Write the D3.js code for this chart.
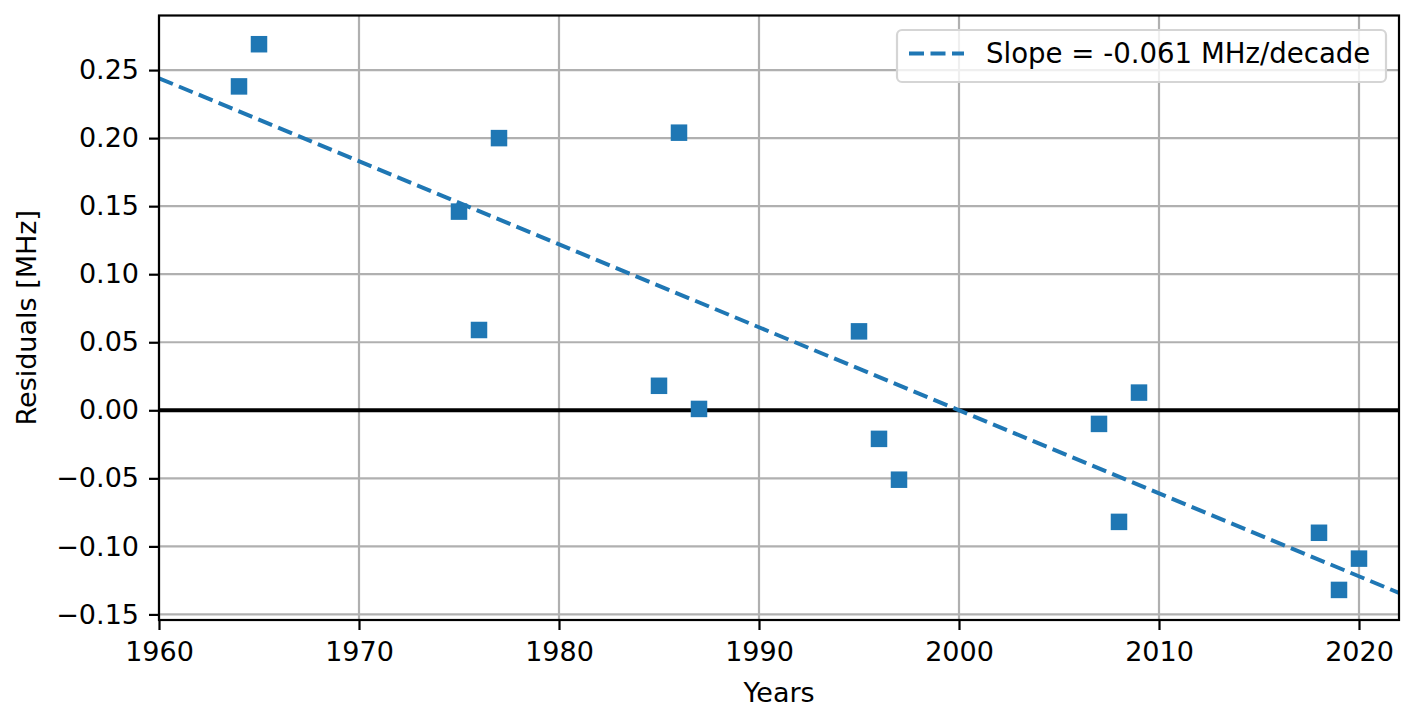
<!DOCTYPE html>
<html><head><meta charset="utf-8">
<script src="https://cdn.jsdelivr.net/npm/d3@7"></script>
<style>body{margin:0;background:#fff}svg{display:block;font-family:"DejaVu Sans",sans-serif}</style>
</head><body><svg id="c" width="1415" height="716"></svg>
<script>
const years = [1964,1965,1975,1976,1977,1985,1986,1987,1995,1996,1997,2007,2008,2009,2018,2019,2020];
const residuals = [0.238,0.269,0.146,0.059,0.200,0.018,0.204,0.001,0.058,-0.021,-0.051,-0.010,-0.082,0.013,-0.090,-0.132,-0.109];
const slopePerDecade = -0.061;
const fitAnchorYear = 2000;
const xTicks = [1960,1970,1980,1990,2000,2010,2020];
const yTicks = [-0.15,-0.10,-0.05,0.00,0.05,0.10,0.15,0.20,0.25];
const legendLabel = "Slope = -0.061 MHz/decade";

const FS = "27px";
const svg = d3.select("#c");
const L=159, R=1399, T=15.5, B=620;
const x = d3.scaleLinear().domain([1960,2022]).range([L,R]);
const y = d3.scaleLinear().domain([-0.1541,0.2901]).range([B,T]);
const blue = "#1f77b4";

// grid
const g = svg.append("g");
g.selectAll(".gx").data(xTicks).join("line").attr("x1",d=>x(d)).attr("x2",d=>x(d)).attr("y1",T).attr("y2",B)
 .attr("stroke","#b0b0b0").attr("stroke-width",2.2);
g.selectAll(".gy").data(yTicks).join("line").attr("y1",d=>y(d)).attr("y2",d=>y(d)).attr("x1",L).attr("x2",R)
 .attr("stroke","#b0b0b0").attr("stroke-width",2.2);

// zero line
svg.append("line").attr("x1",L).attr("x2",R).attr("y1",y(0)).attr("y2",y(0)).attr("stroke","#000").attr("stroke-width",4);

// fit line
const fit = yr => slopePerDecade/10*(yr-fitAnchorYear);
svg.append("clipPath").attr("id","cp").append("rect").attr("x",L).attr("y",T).attr("width",R-L).attr("height",B-T);
svg.append("line").attr("clip-path","url(#cp)").attr("x1",x(1960)).attr("x2",x(2022)).attr("y1",y(fit(1960))).attr("y2",y(fit(2022)))
 .attr("stroke",blue).attr("stroke-width",4).attr("stroke-dasharray","15,6.5");

// markers
const s=16.5;
svg.selectAll(".m").data(years.map((d,i)=>[d,residuals[i]])).join("rect")
 .attr("x",d=>x(d[0])-s/2).attr("y",d=>y(d[1])-s/2).attr("width",s).attr("height",s).attr("fill",blue);

// axes
const xa = svg.append("g").attr("transform",`translate(0,${B})`).call(d3.axisBottom(x).tickValues(xTicks).tickFormat(d3.format("d")).tickSize(10).tickPadding(12));
const ya = svg.append("g").attr("transform",`translate(${L},0)`).call(d3.axisLeft(y).tickValues(yTicks).tickFormat(d=>d3.format(".2f")(d).replace("-","\u2212")).tickSize(10).tickPadding(10));
[xa,ya].forEach(a=>{a.attr("font-size",null).attr("font-family",null);a.select(".domain").remove();a.selectAll("line").attr("stroke","#000").attr("stroke-width",2.2);
 a.selectAll("text").attr("fill","#000").style("font-size",FS);});
svg.append("rect").attr("x",L).attr("y",T).attr("width",R-L).attr("height",B-T).attr("fill","none").attr("stroke","#000").attr("stroke-width",2.2);

// labels
svg.append("text").attr("x",(L+R)/2).attr("y",702).attr("text-anchor","middle").style("font-size",FS).text("Years");
svg.append("text").attr("transform",`translate(36,${(T+B)/2}) rotate(-90)`).attr("text-anchor","middle").style("font-size",FS).text("Residuals [MHz]");

// legend
const lg = svg.append("g");
lg.append("rect").attr("x",897).attr("y",30).attr("width",489).attr("height",52).attr("rx",5).attr("fill","#fff").attr("fill-opacity",0.8).attr("stroke","#d5d5d5").attr("stroke-width",2.2);
lg.append("line").attr("x1",909).attr("x2",964).attr("y1",53.5).attr("y2",53.5).attr("stroke",blue).attr("stroke-width",4).attr("stroke-dasharray","15,6.5");
lg.append("text").attr("x",986).attr("y",63).style("font-size","27.6px").text(legendLabel);
</script></body></html>
